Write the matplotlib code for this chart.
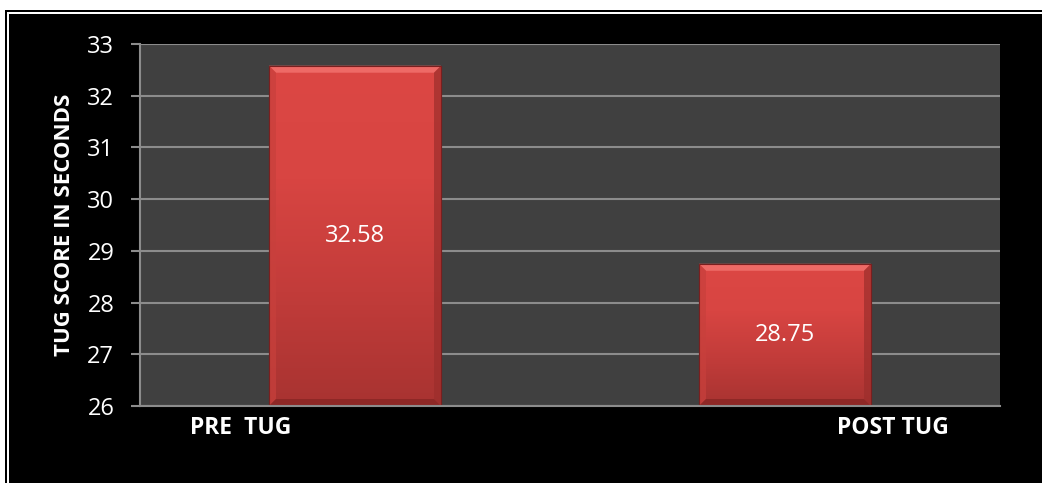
import numpy as np
import matplotlib.pyplot as plt
from matplotlib.patches import Rectangle, Polygon
from matplotlib.colors import LinearSegmentedColormap

# TUG scores before and after
categories = ["PRE  TUG", "POST TUG"]
scores = [32.58, 28.75]
y_ticks = [26, 27, 28, 29, 30, 31, 32, 33]

W, H = 1042, 483
FONT = ["Open Sans", "DejaVu Sans"]
plt.rcParams["font.family"] = FONT

fig = plt.figure(figsize=(W / 100, H / 100), dpi=100)
fig.patch.set_facecolor("white")

# double-line frame: black, thin white gap, black fill
def px_rect(x0, top):
    return Rectangle((x0 / W, 0), 1.2, (H - top) / H, transform=fig.transFigure,
                     zorder=-10)

for x0, top, col in [(5, 10, "black"), (7, 12, "white"), (9, 14, "black")]:
    r = px_rect(x0, top)
    r.set_facecolor(col)
    r.set_edgecolor("none")
    fig.patches.append(r)

ax_l, ax_r, ax_t, ax_b = 140, 1000, 44, 406
ax = fig.add_axes([ax_l / W, (H - ax_b) / H, (ax_r - ax_l) / W, (ax_b - ax_t) / H])
ax.set_facecolor("#404040")

x = np.arange(len(categories))
ymin, ymax = y_ticks[0], y_ticks[-1]
ax.set_xlim(-0.5, len(categories) - 0.5)
ax.set_ylim(ymin, ymax)

ax.set_yticks(y_ticks)
ax.yaxis.grid(True, color="#8c8c8c", linewidth=1.5)
ax.set_axisbelow(True)
ax.tick_params(axis="y", colors="#8c8c8c", labelcolor="white", labelsize=17,
               length=6.5, width=1.5, pad=12)
ax.set_xticks(x)
ax.tick_params(axis="x", length=0, labelbottom=False)
for side in ["top", "right"]:
    ax.spines[side].set_visible(False)
for side in ["left", "bottom"]:
    ax.spines[side].set_color("#8c8c8c")
    ax.spines[side].set_linewidth(1.5)

ax.set_ylabel("TUG SCORE IN SECONDS", color="white", fontsize=16,
              fontweight="bold", labelpad=9)

bar_width = 0.4
heights = [s - ymin for s in scores]
bars = ax.bar(x, heights, bottom=ymin, width=bar_width, color="#d44440",
              edgecolor="#7a1f1f", linewidth=0.8, zorder=2)

# vertical red shading inside each bar
shade = LinearSegmentedColormap.from_list(
    "shade", ["#a83331", "#c23c3a", "#d84542", "#dc4744"])
grad = np.linspace(0, 1, 256).reshape(-1, 1)

# pixel size in data units, used for the bevel edge
dx = (ax.get_xlim()[1] - ax.get_xlim()[0]) / (ax_r - ax_l)
dy = (ymax - ymin) / (ax_b - ax_t)
bevel = 7

for b in bars:
    x0, y0 = b.get_x(), b.get_y()
    x1, y1 = x0 + b.get_width(), y0 + b.get_height()
    im = ax.imshow(grad, cmap=shade, origin="lower", aspect="auto",
                   extent=[x0, x1, y0, y1], zorder=2.1)
    im.set_clip_path(b)
    bx, by = bevel * dx, bevel * dy
    top = Polygon([(x0, y1), (x1, y1), (x1 - bx, y1 - by), (x0 + bx, y1 - by)],
                  closed=True, facecolor="#ee6a66", edgecolor="none", zorder=2.2)
    left = Polygon([(x0, y1), (x0 + bx, y1 - by), (x0 + bx, y0 + by), (x0, y0)],
                   closed=True, facecolor="#c8403c", edgecolor="none", alpha=0.7,
                   zorder=2.2)
    right = Polygon([(x1, y1), (x1 - bx, y1 - by), (x1 - bx, y0 + by), (x1, y0)],
                    closed=True, facecolor="#9c2e2c", edgecolor="none", alpha=0.7,
                    zorder=2.2)
    bottom = Polygon([(x0, y0), (x0 + bx, y0 + by), (x1 - bx, y0 + by), (x1, y0)],
                     closed=True, facecolor="#8e2826", edgecolor="none", zorder=2.2)
    for p in (top, left, right, bottom):
        ax.add_patch(p)
    outline = Rectangle((x0, y0), x1 - x0, y1 - y0, facecolor="none",
                        edgecolor="#7a1f1f", linewidth=0.8, zorder=2.3)
    ax.add_patch(outline)

for xi, s in zip(x, scores):
    ax.text(xi, (ymin + s) / 2, f"{s:.2f}", color="white", fontsize=17,
            ha="center", va="center", zorder=3)

# category labels sit off-centre from their bars
label_offsets = [-0.267, 0.251]
for xi, lab, off in zip(x, categories, label_offsets):
    ax.text(xi + off, ymin - 0.42, lab, color="white", fontsize=16.5,
            fontweight="bold", ha="center", va="center", clip_on=False)

fig.savefig("out.png", dpi=100, facecolor=fig.get_facecolor())
